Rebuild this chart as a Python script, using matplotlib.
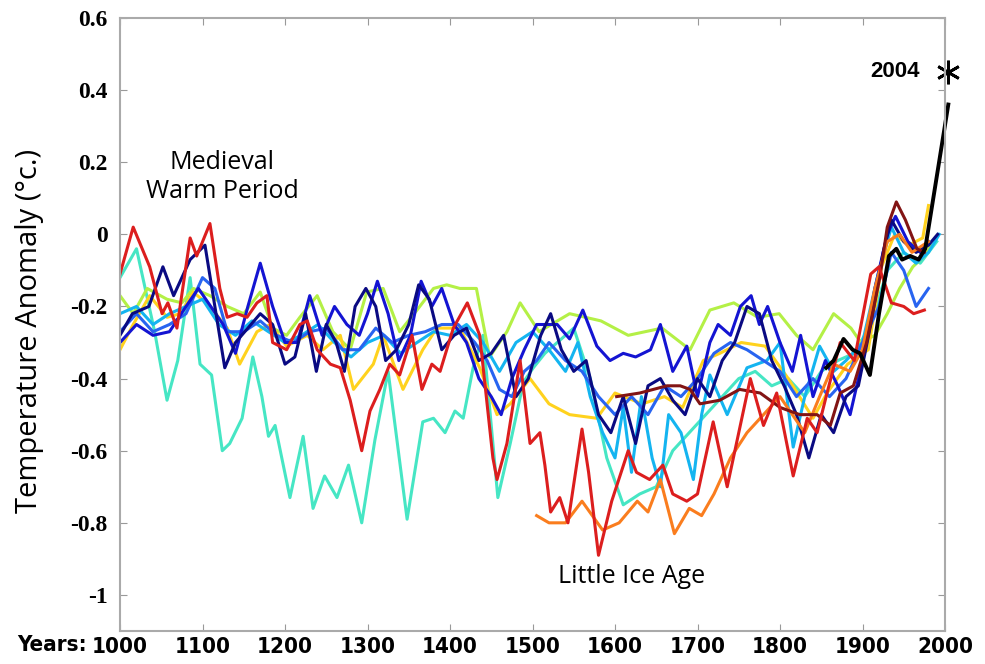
import numpy as np
import matplotlib
matplotlib.use('Agg')
import matplotlib.pyplot as plt

plt.rcParams['axes.unicode_minus'] = False

# --- reconstructions, values (year, anomaly degC) ---
aqua_yr = [1000, 1020, 1042, 1057, 1070, 1085, 1097, 1111, 1124, 1133, 1148, 1161, 1172, 1180, 1188, 1206,
           1222, 1234, 1248, 1263, 1277, 1293, 1309, 1325, 1348, 1367, 1380, 1394, 1406, 1416, 1428, 1440,
           1458, 1473, 1489, 1501, 1515, 1530, 1550, 1570, 1590, 1610, 1630, 1650, 1670, 1690, 1710, 1730,
           1750, 1770, 1790, 1810, 1830, 1850, 1870, 1890, 1910, 1930, 1950, 1970, 1990]
aqua_val = [-0.12, -0.04, -0.27, -0.46, -0.35, -0.12, -0.36, -0.39, -0.60, -0.58, -0.51, -0.34, -0.45, -0.56, -0.53, -0.73,
            -0.56, -0.76, -0.67, -0.73, -0.64, -0.80, -0.57, -0.38, -0.79, -0.52, -0.51, -0.55, -0.49, -0.51, -0.37, -0.28,
            -0.73, -0.58, -0.41, -0.37, -0.33, -0.30, -0.26, -0.40, -0.62, -0.75, -0.72, -0.70, -0.60, -0.55, -0.50, -0.45,
            -0.40, -0.38, -0.42, -0.40, -0.45, -0.38, -0.35, -0.33, -0.25, -0.10, -0.05, -0.08, -0.02]

lime_yr = [1000, 1016, 1033, 1057, 1075, 1089, 1109, 1130, 1150, 1170, 1185, 1202, 1218, 1239, 1258, 1279,
           1299, 1319, 1339, 1360, 1380, 1396, 1412, 1432, 1448, 1469, 1485, 1508, 1545, 1583, 1616, 1657,
           1691, 1715, 1744, 1773, 1799, 1820, 1840, 1865, 1886, 1898, 1915, 1930, 1945, 1961, 1975, 1983]
lime_val = [-0.17, -0.22, -0.15, -0.18, -0.19, -0.15, -0.17, -0.20, -0.22, -0.16, -0.26, -0.28, -0.23, -0.17, -0.27, -0.32,
            -0.16, -0.15, -0.27, -0.21, -0.15, -0.14, -0.15, -0.15, -0.34, -0.27, -0.19, -0.27, -0.22, -0.24, -0.28, -0.26,
            -0.32, -0.21, -0.19, -0.23, -0.22, -0.28, -0.32, -0.22, -0.26, -0.30, -0.28, -0.22, -0.15, -0.09, -0.06, -0.03]

gold_yr = [1000, 1016, 1036, 1057, 1073, 1089, 1109, 1130, 1145, 1166, 1182, 1202, 1227, 1246, 1267, 1283,
           1307, 1319, 1343, 1367, 1384, 1412, 1436, 1457, 1473, 1497, 1520, 1545, 1578, 1600, 1633, 1660,
           1682, 1707, 1727, 1753, 1782, 1810, 1840, 1857, 1882, 1907, 1923, 1939, 1956, 1973, 1980]
gold_val = [-0.32, -0.25, -0.17, -0.23, -0.22, -0.16, -0.20, -0.26, -0.36, -0.27, -0.25, -0.31, -0.28, -0.32, -0.28, -0.43,
            -0.36, -0.28, -0.43, -0.32, -0.26, -0.26, -0.37, -0.50, -0.47, -0.40, -0.47, -0.50, -0.51, -0.44, -0.47, -0.45,
            -0.48, -0.35, -0.33, -0.30, -0.31, -0.40, -0.51, -0.44, -0.36, -0.32, -0.09, 0.00, -0.03, -0.01, 0.08]

cyan_yr = [1000, 1020, 1040, 1060, 1080, 1100, 1120, 1140, 1160, 1180, 1200, 1220, 1240, 1260, 1280, 1300,
           1320, 1340, 1360, 1380, 1400, 1420, 1440, 1460, 1480, 1500, 1520, 1540, 1555, 1570, 1585, 1600,
           1610, 1620, 1632, 1645, 1655, 1665, 1680, 1695, 1705, 1715, 1736, 1760, 1784, 1800, 1816, 1830,
           1848, 1865, 1880, 1900, 1920, 1935, 1950, 1965, 1980, 1993]
cyan_val = [-0.22, -0.20, -0.25, -0.22, -0.20, -0.18, -0.25, -0.28, -0.24, -0.27, -0.30, -0.28, -0.25, -0.30, -0.34, -0.30,
            -0.28, -0.33, -0.30, -0.27, -0.28, -0.25, -0.30, -0.38, -0.30, -0.27, -0.32, -0.38, -0.30, -0.45, -0.55, -0.62,
            -0.48, -0.66, -0.45, -0.62, -0.70, -0.50, -0.55, -0.68, -0.50, -0.39, -0.50, -0.37, -0.35, -0.30, -0.59, -0.45,
            -0.31, -0.38, -0.35, -0.30, -0.10, 0.02, -0.05, -0.08, -0.05, 0.00]

royal_yr = [1000, 1020, 1040, 1060, 1080, 1100, 1115, 1130, 1150, 1170, 1190, 1210, 1230, 1250, 1270, 1290,
            1310, 1330, 1350, 1370, 1390, 1410, 1430, 1445, 1460, 1475, 1490, 1505, 1520, 1540, 1560, 1580,
            1600, 1620, 1640, 1660, 1680, 1700, 1720, 1740, 1760, 1780, 1800, 1820, 1840, 1860, 1880, 1900,
            1920, 1935, 1950, 1965, 1980]
royal_val = [-0.27, -0.22, -0.27, -0.25, -0.22, -0.12, -0.15, -0.27, -0.27, -0.24, -0.28, -0.30, -0.27, -0.26, -0.32, -0.32,
             -0.26, -0.30, -0.28, -0.27, -0.25, -0.25, -0.30, -0.35, -0.43, -0.45, -0.38, -0.35, -0.30, -0.35, -0.38, -0.45,
             -0.50, -0.45, -0.50, -0.42, -0.45, -0.40, -0.33, -0.30, -0.32, -0.35, -0.38, -0.45, -0.40, -0.45, -0.40, -0.30,
             -0.20, -0.05, -0.10, -0.20, -0.15]

blue_yr = [1000, 1020, 1040, 1060, 1080, 1095, 1110, 1125, 1140, 1155, 1170, 1185, 1200, 1215, 1230, 1245,
           1260, 1275, 1290, 1300, 1312, 1325, 1338, 1352, 1365, 1378, 1390, 1405, 1420, 1435, 1450, 1462,
           1475, 1490, 1505, 1530, 1545, 1561, 1578, 1594, 1610, 1625, 1643, 1655, 1670, 1687, 1700, 1715,
           1725, 1740, 1752, 1765, 1775, 1785, 1800, 1815, 1825, 1840, 1855, 1870, 1885, 1900, 1915, 1930,
           1940, 1955, 1970, 1980]
blue_val = [-0.30, -0.25, -0.28, -0.27, -0.20, -0.15, -0.20, -0.25, -0.33, -0.20, -0.08, -0.20, -0.30, -0.30, -0.17, -0.28,
            -0.20, -0.25, -0.28, -0.22, -0.13, -0.22, -0.35, -0.28, -0.13, -0.20, -0.15, -0.25, -0.30, -0.40, -0.45, -0.50,
            -0.40, -0.32, -0.25, -0.25, -0.29, -0.21, -0.31, -0.35, -0.33, -0.34, -0.32, -0.25, -0.38, -0.31, -0.45, -0.30,
            -0.25, -0.28, -0.20, -0.17, -0.25, -0.20, -0.30, -0.38, -0.28, -0.45, -0.35, -0.42, -0.50, -0.35, -0.15, 0.00,
            0.05, -0.02, -0.05, -0.02]

navy_yr = [1000, 1015, 1035, 1052, 1065, 1085, 1103, 1115, 1127, 1140, 1155, 1170, 1185, 1200, 1212, 1225,
           1238, 1250, 1262, 1272, 1285, 1298, 1310, 1322, 1335, 1350, 1362, 1375, 1390, 1405, 1420, 1435,
           1450, 1465, 1480, 1495, 1510, 1522, 1535, 1550, 1565, 1580, 1595, 1610, 1625, 1640, 1655, 1670,
           1685, 1700, 1715, 1730, 1745, 1760, 1775, 1790, 1805, 1820, 1835, 1850, 1865, 1880, 1895, 1910,
           1925, 1935, 1950, 1965, 1980, 1991]
navy_val = [-0.28, -0.22, -0.20, -0.09, -0.17, -0.07, -0.03, -0.20, -0.37, -0.30, -0.26, -0.22, -0.25, -0.36, -0.34, -0.22,
            -0.38, -0.25, -0.30, -0.38, -0.20, -0.15, -0.20, -0.35, -0.32, -0.25, -0.14, -0.18, -0.32, -0.28, -0.26, -0.35,
            -0.33, -0.28, -0.45, -0.40, -0.28, -0.22, -0.32, -0.38, -0.35, -0.50, -0.55, -0.45, -0.58, -0.42, -0.40, -0.46,
            -0.50, -0.40, -0.45, -0.35, -0.30, -0.20, -0.22, -0.35, -0.42, -0.50, -0.62, -0.50, -0.55, -0.45, -0.42, -0.25,
            -0.05, 0.04, -0.02, -0.05, -0.03, 0.00]

orange_yr = [1505, 1520, 1540, 1560, 1585, 1605, 1627, 1640, 1655, 1672, 1690, 1705, 1720, 1740, 1760, 1780,
             1800, 1815, 1830, 1848, 1865, 1885, 1900, 1915, 1930, 1945, 1960, 1980]
orange_val = [-0.78, -0.80, -0.80, -0.74, -0.82, -0.80, -0.74, -0.77, -0.68, -0.83, -0.76, -0.78, -0.72, -0.62, -0.55, -0.50,
              -0.45, -0.50, -0.55, -0.45, -0.36, -0.38, -0.32, -0.15, -0.02, 0.00, -0.05, -0.02]

maroon_yr = [1602, 1630, 1663, 1679, 1691, 1703, 1727, 1751, 1776, 1800, 1824, 1845, 1861, 1873, 1889, 1905,
             1921, 1930, 1941, 1952, 1966, 1975]
maroon_val = [-0.45, -0.44, -0.42, -0.42, -0.43, -0.47, -0.46, -0.43, -0.44, -0.48, -0.50, -0.50, -0.53, -0.44, -0.42, -0.30,
              -0.12, 0.02, 0.09, 0.04, -0.04, -0.05]

red_yr = [1000, 1016, 1036, 1051, 1058, 1069, 1085, 1093, 1109, 1121, 1130, 1142, 1154, 1166, 1178, 1185,
          1202, 1218, 1227, 1239, 1255, 1267, 1279, 1293, 1303, 1315, 1327, 1339, 1354, 1366, 1378, 1388,
          1404, 1421, 1436, 1452, 1457, 1469, 1485, 1497, 1509, 1515, 1522, 1533, 1543, 1560, 1568, 1580,
          1596, 1616, 1626, 1642, 1658, 1670, 1687, 1700, 1719, 1736, 1764, 1780, 1796, 1816, 1833, 1845,
          1857, 1873, 1890, 1910, 1920, 1935, 1950, 1962, 1975]
red_val = [-0.11, 0.02, -0.09, -0.22, -0.19, -0.26, -0.01, -0.06, 0.03, -0.15, -0.23, -0.22, -0.23, -0.19, -0.17, -0.30,
           -0.32, -0.25, -0.24, -0.32, -0.36, -0.37, -0.46, -0.60, -0.49, -0.43, -0.36, -0.39, -0.28, -0.43, -0.36, -0.38,
           -0.26, -0.19, -0.28, -0.62, -0.68, -0.58, -0.35, -0.58, -0.55, -0.64, -0.77, -0.73, -0.80, -0.54, -0.66, -0.89,
           -0.74, -0.60, -0.66, -0.68, -0.64, -0.72, -0.74, -0.72, -0.52, -0.70, -0.40, -0.53, -0.44, -0.67, -0.51, -0.55,
           -0.44, -0.30, -0.35, -0.11, -0.09, -0.19, -0.20, -0.22, -0.21]

inst_yr = [1856, 1865, 1877, 1888, 1897, 1909, 1920, 1932, 1941, 1948, 1958, 1968, 1976, 1990, 2004]
inst_val = [-0.37, -0.35, -0.29, -0.32, -0.33, -0.39, -0.22, -0.06, -0.04, -0.07, -0.06, -0.07, -0.04, 0.16, 0.36]

series = [
    (aqua_yr, aqua_val, '#46e6c4'),
    (lime_yr, lime_val, '#b4f046'),
    (gold_yr, gold_val, '#ffd21e'),
    (cyan_yr, cyan_val, '#14b4f0'),
    (royal_yr, royal_val, '#2864f0'),
    (blue_yr, blue_val, '#1414d2'),
    (navy_yr, navy_val, '#0a0a82'),
    (orange_yr, orange_val, '#fa7d1e'),
    (maroon_yr, maroon_val, '#821414'),
    (red_yr, red_val, '#dc1e1e'),
]

yticks = [0.6, 0.4, 0.2, 0, -0.2, -0.4, -0.6, -0.8, -1]
ytick_labels = ['0.6', '0.4', '0.2', '0', '-0.2', '-0.4', '-0.6', '-0.8', '-1']
xticks = list(range(1000, 2001, 100))

fig = plt.figure(figsize=(9.85, 6.64), dpi=100)
ax = fig.add_axes([120 / 985, 1 - 631 / 664, 825 / 985, 613 / 664])

for yr, val, col in series:
    ax.plot(yr, val, color=col, lw=2.2, solid_joinstyle='round')
ax.plot(inst_yr, inst_val, color='black', lw=2.8, solid_joinstyle='round', clip_on=False)

ax.plot([2004], [0.45], marker=(6, 2, 0), ms=17, mew=2, color='black', clip_on=False)
ax.text(1939, 0.453, '2004', ha='center', va='center', fontsize=16, fontweight='bold',
        family='Liberation Sans')

ax.text(1124, 0.16, 'Medieval\nWarm Period', ha='center', va='center', fontsize=18,
        family='Open Sans', linespacing=1.2)
ax.text(1620, -0.95, 'Little Ice Age', ha='center', va='center', fontsize=18, family='Open Sans')

ax.set_xlim(1000, 2000)
ax.set_ylim(-1.1, 0.6)
ax.set_yticks(yticks)
ax.set_yticklabels(ytick_labels, family='Liberation Serif', fontweight='bold', fontsize=17)
ax.set_xticks(xticks)
ax.set_xticklabels([str(t) for t in xticks], family='DejaVu Sans', fontstretch='condensed',
                   fontweight='bold', fontsize=16)
ax.tick_params(direction='in', top=True, right=True, length=5, color='#999999', pad=4)
ax.tick_params(axis='y', pad=9)
for s in ax.spines.values():
    s.set_color('#aaaaaa')
    s.set_linewidth(1.5)

ax.set_ylabel('Temperature Anomaly (°c.)', fontsize=21, family='Open Sans', va='center')
ax.yaxis.set_label_coords((30 - 120) / 825, 0.49)
fig.text(52 / 985, 1 - 645 / 664, 'Years:', ha='center', va='center', fontsize=16,
         fontweight='bold', family='DejaVu Sans', fontstretch='condensed')

fig.savefig('out.png', dpi=100)
